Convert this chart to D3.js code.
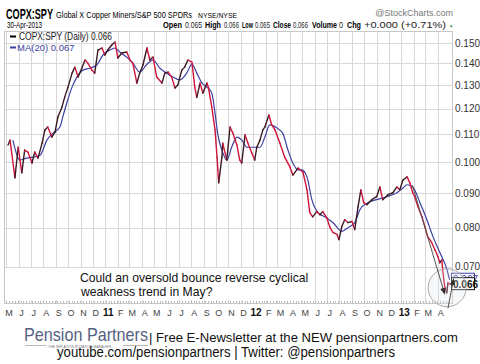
<!DOCTYPE html>
<html>
<head>
<meta charset="utf-8">
<script src="https://cdn.jsdelivr.net/npm/d3@7"></script>
<style>
  body { margin: 0; background: #fff; }
  svg { display: block; }
  text { font-family: "Liberation Sans", Arial, sans-serif; }
  .narrow { font-family: "Liberation Sans Narrow", "Arial Narrow", "Liberation Sans", sans-serif; }
</style>
</head>
<body>
<svg id="chart"></svg>
<script>
// daily close (roughly weekly)
const priceDates = ["2010-05-06","2010-05-11","2010-05-23","2010-05-31","2010-06-09","2010-06-16","2010-06-24","2010-07-04","2010-07-11","2010-07-19","2010-07-29","2010-08-05","2010-08-12","2010-08-22","2010-08-30","2010-09-06","2010-09-16","2010-09-23","2010-10-01","2010-10-11","2010-10-18","2010-10-26","2010-11-04","2010-11-12","2010-11-19","2010-11-29","2010-12-06","2010-12-14","2010-12-24","2010-12-31","2011-01-07","2011-01-17","2011-01-25","2011-02-01","2011-02-11","2011-02-23","2011-03-03","2011-03-10","2011-03-20","2011-03-27","2011-04-04","2011-04-14","2011-04-21","2011-04-29","2011-05-08","2011-05-21","2011-05-28","2011-06-05","2011-06-14","2011-06-22","2011-06-29","2011-07-09","2011-07-16","2011-07-24","2011-08-03","2011-08-10","2011-08-15","2011-08-23","2011-08-30","2011-09-09","2011-09-13","2011-09-21","2011-09-29","2011-10-04","2011-10-06","2011-10-08","2011-10-16","2011-10-18","2011-10-28","2011-11-05","2011-11-12","2011-11-22","2011-11-29","2011-12-04","2011-12-12","2011-12-19","2011-12-29","2012-01-05","2012-01-10","2012-01-18","2012-01-25","2012-01-30","2012-02-09","2012-02-16","2012-02-24","2012-03-07","2012-03-19","2012-04-01","2012-04-08","2012-04-21","2012-05-03","2012-05-13","2012-05-20","2012-05-27","2012-06-06","2012-06-14","2012-06-21","2012-07-01","2012-07-08","2012-07-16","2012-07-26","2012-07-31","2012-08-07","2012-08-14","2012-08-22","2012-09-01","2012-09-08","2012-09-16","2012-09-23","2012-09-30","2012-10-08","2012-10-20","2012-11-01","2012-11-09","2012-11-16","2012-11-29","2012-12-11","2012-12-21","2012-12-28","2013-01-05","2013-01-15","2013-01-22","2013-01-29","2013-02-03","2013-02-11","2013-02-21","2013-02-28","2013-03-07","2013-03-17","2013-03-25","2013-04-01","2013-04-06","2013-04-11","2013-04-13","2013-04-18","2013-04-23","2013-04-26","2013-04-30"];
const priceValues = [0.1060,0.1078,0.0948,0.1052,0.0964,0.1042,0.1035,0.0997,0.1035,0.1014,0.1067,0.1116,0.1127,0.1089,0.1108,0.1166,0.1206,0.1249,0.1291,0.1354,0.1382,0.1336,0.1377,0.1416,0.1401,0.1368,0.1354,0.1465,0.1475,0.1440,0.1465,0.1490,0.1505,0.1426,0.1450,0.1455,0.1416,0.1401,0.1309,0.1354,0.1392,0.1475,0.1416,0.1430,0.1336,0.1309,0.1354,0.1359,0.1336,0.1287,0.1300,0.1368,0.1382,0.1416,0.1406,0.1291,0.1247,0.1309,0.1265,0.1309,0.1287,0.1206,0.1116,0.1017,0.0974,0.0932,0.1017,0.1067,0.1007,0.1127,0.1104,0.1060,0.1007,0.0997,0.1097,0.1067,0.1031,0.1007,0.1052,0.1078,0.1116,0.1127,0.1174,0.1135,0.1116,0.1067,0.1017,0.0983,0.0957,0.0980,0.0967,0.0910,0.0842,0.0830,0.0845,0.0836,0.0845,0.0827,0.0803,0.0787,0.0782,0.0768,0.0803,0.0822,0.0814,0.0817,0.0795,0.0859,0.0910,0.0871,0.0865,0.0880,0.0889,0.0919,0.0880,0.0895,0.0901,0.0919,0.0910,0.0941,0.0951,0.0932,0.0901,0.0889,0.0859,0.0830,0.0803,0.0776,0.0760,0.0742,0.0725,0.0710,0.0717,0.0693,0.0654,0.0641,0.0663,0.0660];

// MA(20), also
const maDates = ["2010-05-18","2010-06-04","2010-06-21","2010-07-06","2010-07-24","2010-08-10","2010-08-25","2010-09-11","2010-09-18","2010-09-28","2010-10-11","2010-10-23","2010-11-07","2010-11-24","2010-12-11","2010-12-26","2011-01-12","2011-01-25","2011-02-06","2011-02-23","2011-03-10","2011-03-27","2011-04-14","2011-04-29","2011-05-16","2011-06-02","2011-06-17","2011-07-04","2011-07-21","2011-08-03","2011-08-15","2011-08-28","2011-09-09","2011-09-21","2011-09-29","2011-10-06","2011-10-16","2011-10-28","2011-11-09","2011-11-22","2011-12-04","2011-12-17","2011-12-31","2012-01-18","2012-01-30","2012-02-11","2012-02-29","2012-03-14","2012-03-27","2012-04-08","2012-04-21","2012-04-30","2012-05-13","2012-05-25","2012-06-09","2012-06-26","2012-07-16","2012-08-07","2012-08-22","2012-09-08","2012-09-21","2012-10-10","2012-11-01","2012-11-26","2012-12-21","2013-01-05","2013-01-15","2013-01-29","2013-02-16","2013-03-05","2013-03-20","2013-04-06","2013-04-23","2013-04-30"];
const maValues = [0.1078,0.1007,0.1014,0.1017,0.1024,0.1078,0.1104,0.1127,0.1166,0.1223,0.1291,0.1336,0.1368,0.1377,0.1392,0.1440,0.1465,0.1475,0.1455,0.1430,0.1401,0.1359,0.1396,0.1416,0.1377,0.1354,0.1336,0.1323,0.1354,0.1396,0.1354,0.1309,0.1291,0.1265,0.1182,0.1097,0.1042,0.1007,0.1052,0.1089,0.1078,0.1052,0.1052,0.1052,0.1089,0.1135,0.1123,0.1104,0.1042,0.0997,0.0974,0.0974,0.0951,0.0880,0.0842,0.0830,0.0814,0.0790,0.0800,0.0814,0.0851,0.0871,0.0880,0.0889,0.0901,0.0916,0.0926,0.0919,0.0871,0.0822,0.0776,0.0735,0.0695,0.0670];

const yTicks = [0.070, 0.080, 0.090, 0.100, 0.110, 0.120, 0.130, 0.140, 0.150];
const lastClose = 0.066;
const lastMA = 0.067;

// header quote line: label, value
const quoteLabels = ["Open", "High", "Low", "Close", "Volume", "Chg"];
const quoteValues = ["0.065", "0.066", "0.065", "0.066", "0", "+0.000 (+0.71%)"];

// layout
const width = 480;
const height = 364;
const plot = {left: 4, right: 452, top: 31, bottom: 303};

const svg = d3.select('#chart')
    .attr('width', width)
    .attr('height', height);

const parseDate = d3.timeParse("%Y-%m-%d");

const priceData = priceDates.map((d, i) => ({date: parseDate(d), value: priceValues[i]}));
const maData = maDates.map((d, i) => ({date: parseDate(d), value: maValues[i]}));

const x = d3.scaleTime()
    .domain([parseDate("2010-04-26"), parseDate("2013-05-06")])
    .range([plot.left, plot.right]);

const y = d3.scaleLog()
    .domain([0.0619, 0.1563])
    .range([plot.bottom, plot.top]);

drawHeader();
drawGrid();
drawAnnotationBox();
drawLines();
drawLegend();
drawMarkup();
drawFooter();

function drawHeader() {
    svg.append('text').attr('class', 'narrow')
        .attr('x', 6).attr('y', 19)
        .attr('font-size', 14).attr('font-weight', 'bold')
        .attr('textLength', 47).attr('lengthAdjust', 'spacingAndGlyphs')
        .text('COPX:SPY');
    svg.append('text').attr('class', 'narrow')
        .attr('x', 56).attr('y', 18)
        .attr('font-size', 9.5)
        .attr('textLength', 136).attr('lengthAdjust', 'spacingAndGlyphs')
        .text('Global X Copper Miners/S&P 500 SPDRs');
    svg.append('text').attr('class', 'narrow')
        .attr('x', 198).attr('y', 18)
        .attr('font-size', 8)
        .attr('textLength', 39).attr('lengthAdjust', 'spacingAndGlyphs')
        .text('NYSE/NYSE');
    svg.append('text').attr('class', 'narrow')
        .attr('x', 453).attr('y', 16)
        .attr('text-anchor', 'end')
        .attr('font-size', 9).attr('fill', '#777')
        .text('@StockCharts.com');
    svg.append('text').attr('class', 'narrow')
        .attr('x', 7).attr('y', 28)
        .attr('font-size', 9)
        .attr('textLength', 35).attr('lengthAdjust', 'spacingAndGlyphs')
        .text('30-Apr-2013');

    // positions / widths of each piece of the quote line
    const labelPos = [[163, 19], [205, 16], [242, 11], [273, 18], [312, 25], [347, 14]];
    const valuePos = [[185, 17], [224, 15], [255, 15], [293, 15], [339, 4], [364, 82]];
    quoteLabels.forEach(function(l, i) {
        svg.append('text').attr('class', 'narrow')
            .attr('x', labelPos[i][0]).attr('y', 28)
            .attr('font-size', 9.5).attr('font-weight', 'bold')
            .attr('textLength', labelPos[i][1]).attr('lengthAdjust', 'spacingAndGlyphs')
            .text(l);
        svg.append('text').attr('class', 'narrow')
            .attr('x', valuePos[i][0]).attr('y', 28)
            .attr('font-size', 9.5).attr('fill', '#222')
            .attr('textLength', valuePos[i][1]).attr('lengthAdjust', 'spacingAndGlyphs')
            .text(quoteValues[i]);
    });
    svg.append('text')
        .attr('x', 449).attr('y', 27)
        .attr('font-size', 4.5).attr('fill', '#4a8a4a')
        .text('\u25B2');
}

function drawGrid() {
    const g = svg.append('g');
    const months = d3.timeMonth.range(parseDate("2010-05-01"), parseDate("2013-05-01"));

    // horizontal grid at ticks
    g.selectAll('line.h')
        .data(yTicks)
        .enter().append('line')
        .attr('class', 'h')
        .attr('x1', plot.left).attr('x2', plot.right)
        .attr('y1', d => Math.round(y(d)) + 0.5)
        .attr('y2', d => Math.round(y(d)) + 0.5)
        .attr('stroke', '#d8d8d8');

    // vertical month lines
    g.selectAll('line.v')
        .data(months)
        .enter().append('line')
        .attr('class', 'v')
        .attr('x1', d => Math.round(x(d)) + 0.5)
        .attr('x2', d => Math.round(x(d)) + 0.5)
        .attr('y1', plot.top).attr('y2', plot.bottom)
        .attr('stroke', '#d8d8d8');

    // weekly ticks on bottom
    g.selectAll('line.wk')
        .data(d3.timeWeek.range(parseDate("2010-04-26"), parseDate("2013-05-06")))
        .enter().append('line')
        .attr('class', 'wk')
        .attr('x1', d => Math.round(x(d)) + 0.5)
        .attr('x2', d => Math.round(x(d)) + 0.5)
        .attr('y1', plot.bottom - 2).attr('y2', plot.bottom)
        .attr('stroke', '#bbb');

    // frame
    g.append('rect')
        .attr('x', plot.left + 0.5).attr('y', plot.top + 0.5)
        .attr('width', plot.right - plot.left).attr('height', plot.bottom - plot.top)
        .attr('fill', 'none').attr('stroke', '#c8c8c8');

    // month labels
    g.selectAll('text.m')
        .data(months)
        .enter().append('text')
        .attr('class', 'm narrow')
        .attr('x', d => x(d) + 3)
        .attr('y', 316)
        .attr('text-anchor', 'middle')
        .attr('font-size', d => d.getMonth() === 0 ? 10 : 9)
        .attr('font-weight', d => d.getMonth() === 0 ? 'bold' : 'normal')
        .attr('fill', d => d.getMonth() === 0 ? '#111' : '#444')
        .text(d => d.getMonth() === 0 ? d3.timeFormat('%y')(d) : d3.timeFormat('%b')(d)[0]);

    // price labels
    g.selectAll('text.y')
        .data(yTicks)
        .enter().append('text')
        .attr('class', 'y narrow')
        .attr('x', 455)
        .attr('y', d => y(d) + 3.5)
        .attr('font-size', 10)
        .attr('fill', '#333')
        .text(d => d3.format('.3f')(d));
}

function drawAnnotationBox() {
    svg.append('rect')
        .attr('x', plot.left + 1).attr('y', y(0.0697))
        .attr('width', 308).attr('height', plot.bottom - 3 - y(0.0697))
        .attr('fill', '#fff');
    const t = svg.append('text').attr('font-size', 12.2).attr('fill', '#111');
    t.append('tspan').attr('x', 80).attr('y', 282).text('Could an oversold bounce reverse cyclical');
    t.append('tspan').attr('x', 81).attr('y', 296).text('weakness trend in May?');
}

function drawLines() {
    // MA(20)
    const maLine = d3.line()
        .x(d => x(d.date))
        .y(d => y(d.value))
        .curve(d3.curveMonotoneX);
    svg.append('path')
        .datum(maData)
        .attr('d', maLine)
        .attr('fill', 'none')
        .attr('stroke', '#3b3fa0')
        .attr('stroke-width', 1.2);

    // price, red when falling, dark when rising
    const pairs = d3.pairs(priceData);
    svg.selectAll('line.price')
        .data(pairs)
        .enter().append('line')
        .attr('class', 'price')
        .attr('x1', d => x(d[0].date)).attr('y1', d => y(d[0].value))
        .attr('x2', d => x(d[1].date)).attr('y2', d => y(d[1].value))
        .attr('stroke', d => d[1].value < d[0].value ? '#d0143c' : '#3a1a22')
        .attr('stroke-width', 1.4)
        .attr('stroke-linecap', 'round');
}

function drawLegend() {
    svg.append('line')
        .attr('x1', 10).attr('x2', 16).attr('y1', 36.5).attr('y2', 36.5)
        .attr('stroke', '#000').attr('stroke-width', 2);
    svg.append('text')
        .attr('x', 19).attr('y', 40)
        .attr('font-size', 10).attr('fill', '#222')
        .attr('font-family', '"DejaVu Sans", sans-serif')
        .attr('textLength', 93).attr('lengthAdjust', 'spacingAndGlyphs')
        .text('COPX:SPY (Daily) 0.066');
    svg.append('line')
        .attr('x1', 10).attr('x2', 16).attr('y1', 47.5).attr('y2', 47.5)
        .attr('stroke', '#3b3fa0').attr('stroke-width', 2);
    svg.append('text').attr('class', 'narrow')
        .attr('x', 17).attr('y', 51)
        .attr('font-size', 9.5).attr('fill', '#3b3fa0')
        .text('MA(20) 0.067');
}

function drawMarkup() {
    // last value tags
    const tag = function(v, color, bold) {
        svg.append('rect')
            .attr('x', 451.5).attr('y', y(v) - 6.5)
            .attr('width', 23).attr('height', 12)
            .attr('fill', '#fff').attr('stroke', color);
        svg.append('text').attr('class', 'narrow')
            .attr('x', 453).attr('y', y(v) + 3.5)
            .attr('font-size', 10).attr('font-weight', bold ? 'bold' : 'normal')
            .attr('fill', color)
            .text(d3.format('.3f')(v));
    };
    tag(lastMA, '#3b3fa0', false);
    tag(lastClose, '#111', true);

    // arrows and circle
    svg.append('defs').append('marker')
        .attr('id', 'arr')
        .attr('viewBox', '0 0 10 10')
        .attr('refX', 9).attr('refY', 5)
        .attr('markerWidth', 7).attr('markerHeight', 7)
        .attr('orient', 'auto')
        .append('path').attr('d', 'M0,1 L10,5 L0,9 z').attr('fill', '#333');

    svg.append('circle')
        .attr('cx', x(parseDate("2013-04-24"))).attr('cy', y(0.0652))
        .attr('r', 19)
        .attr('fill', 'rgba(225,228,235,0.25)')
        .attr('stroke', '#aaa');

    svg.append('line')
        .attr('x1', x(parseDate("2013-01-28"))).attr('y1', y(0.0925))
        .attr('x2', x(parseDate("2013-04-18"))).attr('y2', y(0.0638))
        .attr('stroke', '#555').attr('stroke-width', 1)
        .attr('marker-end', 'url(#arr)');
    svg.append('line')
        .attr('x1', x(parseDate("2013-04-26"))).attr('y1', y(0.0608))
        .attr('x2', x(parseDate("2013-05-10"))).attr('y2', y(0.0672))
        .attr('stroke', '#555').attr('stroke-width', 1)
        .attr('marker-end', 'url(#arr)');
}

function drawFooter() {
    svg.append('text')
        .attr('x', 24).attr('y', 341)
        .attr('font-size', 19).attr('fill', '#55627f')
        .attr('textLength', 124).attr('lengthAdjust', 'spacingAndGlyphs')
        .text('Pension Partners');
    svg.append('line').attr('x1', 25).attr('x2', 46).attr('y1', 345.5).attr('y2', 345.5).attr('stroke', '#888').attr('stroke-width', 0.6);
    svg.append('line').attr('x1', 123).attr('x2', 148).attr('y1', 345.5).attr('y2', 345.5).attr('stroke', '#888').attr('stroke-width', 0.6);
    svg.append('text')
        .attr('x', 48).attr('y', 347.5)
        .attr('font-size', 3.5).attr('fill', '#777')
        .text('THE INFLATION ROTATION MANAGER');
    svg.append('text')
        .attr('x', 149).attr('y', 342)
        .attr('font-size', 13.5).attr('fill', '#111')
        .attr('textLength', 309).attr('lengthAdjust', 'spacingAndGlyphs')
        .text('| Free E-Newsletter at the NEW pensionpartners.com');
    svg.append('text')
        .attr('x', 57).attr('y', 357)
        .attr('font-size', 14).attr('fill', '#111')
        .attr('textLength', 338).attr('lengthAdjust', 'spacingAndGlyphs')
        .text('youtube.com/pensionpartners | Twitter: @pensionpartners');
}
</script>
</body>
</html>
